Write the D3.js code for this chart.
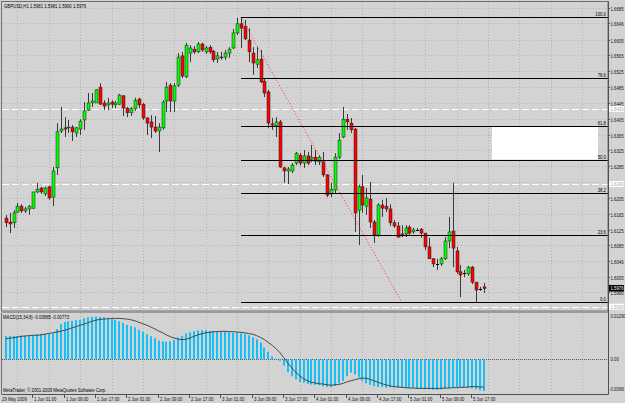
<!DOCTYPE html>
<html>
<head>
<meta charset="utf-8">
<script src="https://cdn.jsdelivr.net/npm/d3@7"></script>
<style>
  body { margin: 0; background: #d3d3d3; }
  text { font-family: 'Liberation Sans', 'DejaVu Sans', sans-serif; font-size: 4.3px; }
</style>
</head>
<body>
<script>
const header = 'GBPUSD,H1  1.5981  1.5981  1.5960  1.5976';
const macdTitle = 'MACD(15,34,8) -0.00885 -0.00773';
const copyright = 'MetaTrader, \u00a9 2001-2009 MetaQuotes Software Corp.';

const tickBars = [0, 7, 15, 23, 31, 39, 47, 55, 63, 71, 79, 87, 95, 103, 111, 119];
const tickLabels = ['29 May 2009', '1 Jun 01:00', '1 Jun 09:00', '1 Jun 17:00', '2 Jun 01:00', '2 Jun 09:00',
  '2 Jun 17:00', '3 Jun 01:00', '3 Jun 09:00', '3 Jun 17:00', '4 Jun 01:00', '4 Jun 09:00', '4 Jun 17:00',
  '5 Jun 01:00', '5 Jun 09:00', '5 Jun 17:00'];

const priceTicks = [1.6685, 1.6646, 1.6605, 1.6565, 1.6525, 1.6485, 1.6445, 1.6405, 1.6365, 1.6325,
  1.6285, 1.6245, 1.6205, 1.6165, 1.6125, 1.6085, 1.6046, 1.6005, 1.5966];

const open = [1.6154, 1.6144, 1.6142, 1.6169, 1.6184, 1.6172, 1.6177, 1.6179, 1.6220, 1.6230,
  1.6215, 1.6233, 1.6207, 1.6281, 1.6374, 1.6382, 1.6382, 1.6384, 1.6369, 1.6379,
  1.6402, 1.6427, 1.6445, 1.6445, 1.6485, 1.6445, 1.6440, 1.6447, 1.6440, 1.6442,
  1.6463, 1.6432, 1.6420, 1.6430, 1.6455, 1.6442, 1.6407, 1.6397, 1.6384, 1.6374,
  1.6382, 1.6450, 1.6490, 1.6450, 1.6490, 1.6564, 1.6511, 1.6571, 1.6581, 1.6574,
  1.6594, 1.6574, 1.6586, 1.6576, 1.6556, 1.6561, 1.6561, 1.6571, 1.6584, 1.6622,
  1.6645, 1.6639, 1.6604, 1.6571, 1.6543, 1.6556, 1.6500, 1.6473, 1.6392, 1.6387,
  1.6397, 1.6281, 1.6273, 1.6273, 1.6293, 1.6313, 1.6293, 1.6311, 1.6303, 1.6308,
  1.6296, 1.6296, 1.6263, 1.6215, 1.6225, 1.6308, 1.6359, 1.6404, 1.6394, 1.6379,
  1.6174, 1.6233, 1.6184, 1.6202, 1.6144, 1.6111, 1.6187, 1.6184, 1.6177, 1.6142,
  1.6134, 1.6114, 1.6114, 1.6131, 1.6119, 1.6124, 1.6126, 1.6116, 1.6081, 1.6051,
  1.6038, 1.6038, 1.6051, 1.6096, 1.6121, 1.6071, 1.6018, 1.6015, 1.6013, 1.6030,
  1.5992, 1.5975, 1.5980];
const high = [1.6162, 1.6167, 1.6174, 1.6192, 1.6189, 1.6182, 1.6187, 1.6220, 1.6243, 1.6233,
  1.6233, 1.6235, 1.6283, 1.6394, 1.6435, 1.6409, 1.6402, 1.6389, 1.6384, 1.6404,
  1.6447, 1.6470, 1.6470, 1.6480, 1.6495, 1.6452, 1.6458, 1.6452, 1.6450, 1.6468,
  1.6465, 1.6435, 1.6435, 1.6458, 1.6458, 1.6445, 1.6409, 1.6414, 1.6412, 1.6394,
  1.6452, 1.6498, 1.6495, 1.6495, 1.6571, 1.6574, 1.6597, 1.6591, 1.6589, 1.6599,
  1.6597, 1.6589, 1.6591, 1.6579, 1.6574, 1.6574, 1.6579, 1.6586, 1.6632, 1.6660,
  1.6662, 1.6655, 1.6634, 1.6586, 1.6586, 1.6579, 1.6508, 1.6478, 1.6407, 1.6409,
  1.6402, 1.6283, 1.6283, 1.6293, 1.6321, 1.6318, 1.6326, 1.6321, 1.6339, 1.6326,
  1.6313, 1.6321, 1.6265, 1.6243, 1.6318, 1.6369, 1.6435, 1.6417, 1.6407, 1.6382,
  1.6238, 1.6263, 1.6230, 1.6245, 1.6149, 1.6192, 1.6200, 1.6205, 1.6189, 1.6149,
  1.6144, 1.6136, 1.6136, 1.6136, 1.6129, 1.6129, 1.6129, 1.6116, 1.6104, 1.6053,
  1.6051, 1.6056, 1.6106, 1.6157, 1.6243, 1.6081, 1.6035, 1.6023, 1.6033, 1.6033,
  1.5992, 1.5980, 1.5990];
const low = [1.6131, 1.6116, 1.6129, 1.6167, 1.6167, 1.6167, 1.6162, 1.6177, 1.6217, 1.6215,
  1.6210, 1.6200, 1.6184, 1.6263, 1.6369, 1.6359, 1.6369, 1.6349, 1.6359, 1.6364,
  1.6377, 1.6425, 1.6435, 1.6445, 1.6440, 1.6427, 1.6427, 1.6432, 1.6432, 1.6440,
  1.6412, 1.6409, 1.6412, 1.6425, 1.6432, 1.6402, 1.6364, 1.6356, 1.6369, 1.6321,
  1.6377, 1.6422, 1.6422, 1.6422, 1.6485, 1.6508, 1.6508, 1.6548, 1.6569, 1.6571,
  1.6574, 1.6569, 1.6569, 1.6548, 1.6546, 1.6554, 1.6554, 1.6559, 1.6581, 1.6617,
  1.6584, 1.6604, 1.6548, 1.6516, 1.6533, 1.6495, 1.6460, 1.6382, 1.6377, 1.6359,
  1.6281, 1.6243, 1.6240, 1.6268, 1.6288, 1.6286, 1.6281, 1.6288, 1.6296, 1.6288,
  1.6288, 1.6258, 1.6207, 1.6207, 1.6217, 1.6303, 1.6356, 1.6377, 1.6369, 1.6119,
  1.6086, 1.6167, 1.6162, 1.6129, 1.6091, 1.6106, 1.6157, 1.6169, 1.6134, 1.6129,
  1.6104, 1.6106, 1.6106, 1.6111, 1.6114, 1.6121, 1.6104, 1.6073, 1.6051, 1.6030,
  1.6023, 1.6033, 1.6048, 1.6078, 1.6030, 1.6013, 1.5954, 1.6005, 1.6008, 1.5987,
  1.5942, 1.5970, 1.5965];
const close = [1.6142, 1.6139, 1.6167, 1.6184, 1.6172, 1.6177, 1.6184, 1.6220, 1.6227, 1.6220,
  1.6230, 1.6205, 1.6273, 1.6372, 1.6379, 1.6379, 1.6384, 1.6372, 1.6382, 1.6399,
  1.6425, 1.6445, 1.6450, 1.6478, 1.6442, 1.6437, 1.6445, 1.6442, 1.6445, 1.6465,
  1.6432, 1.6420, 1.6430, 1.6452, 1.6440, 1.6407, 1.6394, 1.6384, 1.6374, 1.6384,
  1.6447, 1.6485, 1.6450, 1.6488, 1.6561, 1.6513, 1.6591, 1.6584, 1.6574, 1.6594,
  1.6579, 1.6584, 1.6574, 1.6554, 1.6564, 1.6559, 1.6571, 1.6581, 1.6622, 1.6645,
  1.6634, 1.6607, 1.6574, 1.6546, 1.6554, 1.6498, 1.6470, 1.6394, 1.6389, 1.6397,
  1.6283, 1.6273, 1.6278, 1.6288, 1.6318, 1.6293, 1.6311, 1.6293, 1.6308, 1.6298,
  1.6308, 1.6263, 1.6212, 1.6227, 1.6308, 1.6351, 1.6404, 1.6397, 1.6377, 1.6167,
  1.6233, 1.6187, 1.6205, 1.6144, 1.6111, 1.6187, 1.6179, 1.6177, 1.6142, 1.6134,
  1.6106, 1.6109, 1.6129, 1.6116, 1.6124, 1.6124, 1.6116, 1.6081, 1.6051, 1.6038,
  1.6038, 1.6051, 1.6096, 1.6119, 1.6078, 1.6018, 1.6010, 1.6015, 1.6030, 1.5992,
  1.5972, 1.5975, 1.5976];

const macdMain = [0.0065, 0.0065, 0.0065, 0.0065, 0.0066, 0.0066, 0.0066, 0.0067, 0.0070, 0.0071,
  0.0071, 0.0071, 0.0072, 0.0084, 0.0098, 0.0104, 0.0106, 0.0107, 0.0109, 0.0110,
  0.0114, 0.0117, 0.0118, 0.0119, 0.0118, 0.0117, 0.0115, 0.0113, 0.0110, 0.0106,
  0.0102, 0.0096, 0.0093, 0.0089, 0.0082, 0.0077, 0.0070, 0.0064, 0.0059, 0.0052,
  0.0050, 0.0049, 0.0050, 0.0054, 0.0061, 0.0065, 0.0072, 0.0075, 0.0078, 0.0080,
  0.0081, 0.0081, 0.0079, 0.0078, 0.0077, 0.0077, 0.0076, 0.0075, 0.0074, 0.0074,
  0.0072, 0.0071, 0.0067, 0.0061, 0.0056, 0.0047, 0.0033, 0.0021, 0.0008, 0.0002,
  -0.0004, -0.0017, -0.0036, -0.0047, -0.0056, -0.0063, -0.0065, -0.0068, -0.0070, -0.0071,
  -0.0072, -0.0075, -0.0077, -0.0077, -0.0074, -0.0067, -0.0060, -0.0047, -0.0037, -0.0042,
  -0.0050, -0.0060, -0.0067, -0.0071, -0.0075, -0.0077, -0.0077, -0.0079, -0.0078, -0.0078,
  -0.0079, -0.0079, -0.0080, -0.0080, -0.0080, -0.0081, -0.0082, -0.0083, -0.0084, -0.0085,
  -0.0085, -0.0084, -0.0082, -0.0080, -0.0078, -0.0077, -0.0077, -0.0078, -0.0079, -0.0081,
  -0.0083, -0.0086, -0.0088];
const macdSignal = [0.0057, 0.0059, 0.0060, 0.0062, 0.0064, 0.0065, 0.0066, 0.0067, 0.0067, 0.0068,
  0.0070, 0.0072, 0.0074, 0.0076, 0.0078, 0.0081, 0.0084, 0.0088, 0.0091, 0.0095,
  0.0098, 0.0102, 0.0106, 0.0109, 0.0111, 0.0112, 0.0113, 0.0114, 0.0114, 0.0114,
  0.0113, 0.0112, 0.0110, 0.0107, 0.0103, 0.0099, 0.0095, 0.0090, 0.0085, 0.0079,
  0.0074, 0.0068, 0.0063, 0.0059, 0.0056, 0.0055, 0.0056, 0.0059, 0.0064, 0.0068,
  0.0071, 0.0074, 0.0075, 0.0077, 0.0077, 0.0078, 0.0078, 0.0077, 0.0077, 0.0076,
  0.0075, 0.0074, 0.0072, 0.0070, 0.0066, 0.0061, 0.0055, 0.0047, 0.0039, 0.0029,
  0.0018, 0.0004, -0.0011, -0.0024, -0.0036, -0.0046, -0.0054, -0.0060, -0.0064, -0.0066,
  -0.0068, -0.0069, -0.0071, -0.0072, -0.0071, -0.0070, -0.0067, -0.0063, -0.0060, -0.0057,
  -0.0054, -0.0052, -0.0053, -0.0056, -0.0060, -0.0064, -0.0068, -0.0071, -0.0074, -0.0076,
  -0.0077, -0.0078, -0.0079, -0.0080, -0.0080, -0.0081, -0.0081, -0.0081, -0.0081, -0.0081,
  -0.0081, -0.0081, -0.0080, -0.0080, -0.0079, -0.0079, -0.0078, -0.0078, -0.0077, -0.0076,
  -0.0076, -0.0077, -0.0077];
const macdTicks = [0.0129, 0, -0.00966];
const macdTickLabels = ['0.01290', '0.00', '-0.00966'];

// fibonacci object: anchors (bar, price) and levels in percent
const fibBars = [60, 101];
const fibPrices = [1.6662, 1.5942];
const fibLevels = [0, 23.6, 38.2, 50.0, 61.8, 78.6, 100.0];
// horizontal lines and the rectangle object
const hLines = [1.6430, 1.6240, 1.5930];
const rectBars = [124, 151];
const rectPrices = [1.6385, 1.6302];
const lastPrice = 1.5976;

window.onload = () => {
  const width = 625,
    height = 403,
    left = 2,
    right = 608,
    mainTop = 2,
    mainBottom = 311,
    macdTop = 313,
    macdBottom = 394;

  const svg = d3
    .select('body')
    .append('svg')
    .attr('width', width)
    .attr('height', height);

  svg.append('rect').attr('width', width).attr('height', height).attr('fill', '#d3d3d3');

  // terminal font is narrow and tall: small font stretched vertically
  function label(tx, ty, str, color, anchor) {
    return svg.append('text')
      .attr('transform', `translate(${tx},${ty}) scale(1,1.4)`)
      .attr('text-anchor', anchor || 'start')
      .attr('fill', color || '#111')
      .text(str);
  }

  const x = d3.scaleLinear().domain([0, 122]).range([5.7, 5.7 + 3.92 * 122]);
  const y = d3.scaleLinear().domain([1.6005, 1.6685]).range([277, 8]);
  const ym = d3.scaleLinear().domain([-0.00966, 0.0129]).range([macdBottom, macdTop]);
  const px = i => Math.round(x(i));

  // grid
  const grid = svg.append('g').attr('stroke', '#b4b4b4').attr('stroke-dasharray', '1,2');
  d3.range(3, 152, 8).forEach(i => {
    grid.append('line').attr('x1', px(i) + 0.5).attr('x2', px(i) + 0.5)
      .attr('y1', mainTop).attr('y2', mainBottom);
    grid.append('line').attr('x1', px(i) + 0.5).attr('x2', px(i) + 0.5)
      .attr('y1', macdTop).attr('y2', macdBottom);
  });
  priceTicks.forEach(p => {
    grid.append('line').attr('x1', left).attr('x2', right)
      .attr('y1', Math.round(y(p)) + 0.5).attr('y2', Math.round(y(p)) + 0.5);
  });

  // white rectangle object
  svg.append('rect')
    .attr('x', px(rectBars[0]))
    .attr('y', y(rectPrices[0]))
    .attr('width', px(rectBars[1]) - px(rectBars[0]))
    .attr('height', y(rectPrices[1]) - y(rectPrices[0]))
    .attr('fill', '#fff');

  // dashed horizontal lines
  hLines.forEach(p => {
    svg.append('line')
      .attr('x1', left).attr('x2', right)
      .attr('y1', Math.round(y(p)) + 0.5).attr('y2', Math.round(y(p)) + 0.5)
      .attr('stroke', '#fff').attr('stroke-dasharray', '7,3');
  });

  // candles
  const bars = d3.range(open.length);
  svg.append('g').selectAll('line').data(bars).join('line')
    .attr('x1', i => px(i) + 0.5).attr('x2', i => px(i) + 0.5)
    .attr('y1', i => y(high[i])).attr('y2', i => y(low[i]))
    .attr('stroke', '#3a3a3a');
  svg.append('g').selectAll('rect').data(bars.filter(i => Math.abs(open[i] - close[i]) > 0.00005)).join('rect')
    .attr('x', i => px(i) - 1)
    .attr('width', 3)
    .attr('y', i => y(Math.max(open[i], close[i])))
    .attr('height', i => y(Math.min(open[i], close[i])) - y(Math.max(open[i], close[i])))
    .attr('fill', i => (close[i] > open[i] ? '#00ff00' : '#ff0000'))
    .attr('stroke', '#202020')
    .attr('stroke-width', 0.5);
  svg.append('g').selectAll('line').data(bars.filter(i => Math.abs(open[i] - close[i]) <= 0.00005)).join('line')
    .attr('x1', i => px(i) - 1).attr('x2', i => px(i) + 2)
    .attr('y1', i => Math.round(y(close[i])) + 0.5).attr('y2', i => Math.round(y(close[i])) + 0.5)
    .attr('stroke', '#000');

  // fibonacci
  const fy = lv => y(fibPrices[1] + (fibPrices[0] - fibPrices[1]) * lv / 100);
  svg.append('line')
    .attr('x1', x(fibBars[0])).attr('y1', y(fibPrices[0]))
    .attr('x2', x(fibBars[1])).attr('y2', y(fibPrices[1]))
    .attr('stroke', '#ff3030').attr('stroke-dasharray', '1,2');
  fibLevels.forEach(lv => {
    const yy = Math.round(fy(lv)) + 0.5;
    svg.append('line').attr('x1', px(fibBars[0])).attr('x2', right)
      .attr('y1', yy).attr('y2', yy).attr('stroke', '#000');
    label(right - 2, yy - 1.5, lv.toFixed(1), '#000', 'end');
  });

  // frames
  svg.append('rect').attr('x', 1.5).attr('y', 1.5).attr('width', right - 1.5).attr('height', mainBottom - 1.5)
    .attr('fill', 'none').attr('stroke', '#707070');
  svg.append('rect').attr('x', 1.5).attr('y', mainBottom).attr('width', right - 1.5).attr('height', 2)
    .attr('fill', '#9a9a9a');

  // macd panel
  const zero = Math.round(ym(0)) + 0.5;
  svg.append('line').attr('x1', left).attr('x2', right).attr('y1', zero).attr('y2', zero)
    .attr('stroke', '#555').attr('stroke-dasharray', '1,1');
  svg.append('g').selectAll('rect').data(bars).join('rect')
    .attr('x', i => px(i) - 1)
    .attr('width', 2)
    .attr('y', i => ym(Math.max(0, macdMain[i])))
    .attr('height', i => Math.abs(ym(macdMain[i]) - ym(0)))
    .attr('fill', '#16bff6');
  svg.append('path')
    .datum(bars)
    .attr('d', d3.line().x(i => x(i)).y(i => ym(macdSignal[i])))
    .attr('fill', 'none').attr('stroke', '#3a3a3a').attr('stroke-width', 0.9);

  // axes
  svg.append('line').attr('x1', right + 0.5).attr('x2', right + 0.5).attr('y1', 1.5).attr('y2', macdBottom + 0.5)
    .attr('stroke', '#505050');
  svg.append('line').attr('x1', 1.5).attr('x2', right + 0.5).attr('y1', macdBottom + 0.5).attr('y2', macdBottom + 0.5)
    .attr('stroke', '#505050');
  svg.append('line').attr('x1', 1.5).attr('x2', 1.5).attr('y1', macdTop).attr('y2', macdBottom)
    .attr('stroke', '#707070');

  priceTicks.forEach(p => {
    const yy = Math.round(y(p)) + 0.5;
    svg.append('line').attr('x1', right).attr('x2', right + 2).attr('y1', yy).attr('y2', yy).attr('stroke', '#505050');
    // a label sitting right under a line's price box is hidden by it
    if (hLines.some(h => Math.abs(y(h) - y(p)) < 3)) return;
    label(right + 2.5, yy + 2, p.toFixed(4));
  });
  macdTicks.forEach((v, k) => {
    const yy = k === 0 ? macdTop + 3 : k === 2 ? macdBottom - 5 : ym(v);
    const t = label(k === 2 ? right + 1.5 : right + 2.5, yy + 2, macdTickLabels[k]);
    if (k === 2) t.style('font-size', '3.7px');
  });

  // price label boxes
  hLines.forEach(p => {
    const yy = y(p);
    svg.append('rect').attr('x', right + 1).attr('y', yy - 3).attr('width', 15).attr('height', 6).attr('fill', '#fff');
    label(right + 2.5, yy + 2, p.toFixed(4), '#a8a8a8');
  });
  svg.append('rect').attr('x', right + 1).attr('y', y(lastPrice) - 3.5).attr('width', 15).attr('height', 6.5).attr('fill', '#000');
  label(right + 2.5, y(lastPrice) + 2, lastPrice.toFixed(4), '#fff');

  tickBars.forEach((b, k) => {
    const tx = k === 0 ? 2 : px(b) - 1;
    if (k > 0) {
      svg.append('line').attr('x1', tx + 0.5).attr('x2', tx + 0.5).attr('y1', macdBottom).attr('y2', macdBottom + 4)
        .attr('stroke', '#505050');
    }
    label(k === 0 ? 2 : tx + 2, 400.5, tickLabels[k]);
  });

  // texts
  label(4, 8, header, '#000');
  label(3, 319, macdTitle, '#000');
  label(3, 391.5, copyright, '#000');
};
</script>
</body>
</html>
